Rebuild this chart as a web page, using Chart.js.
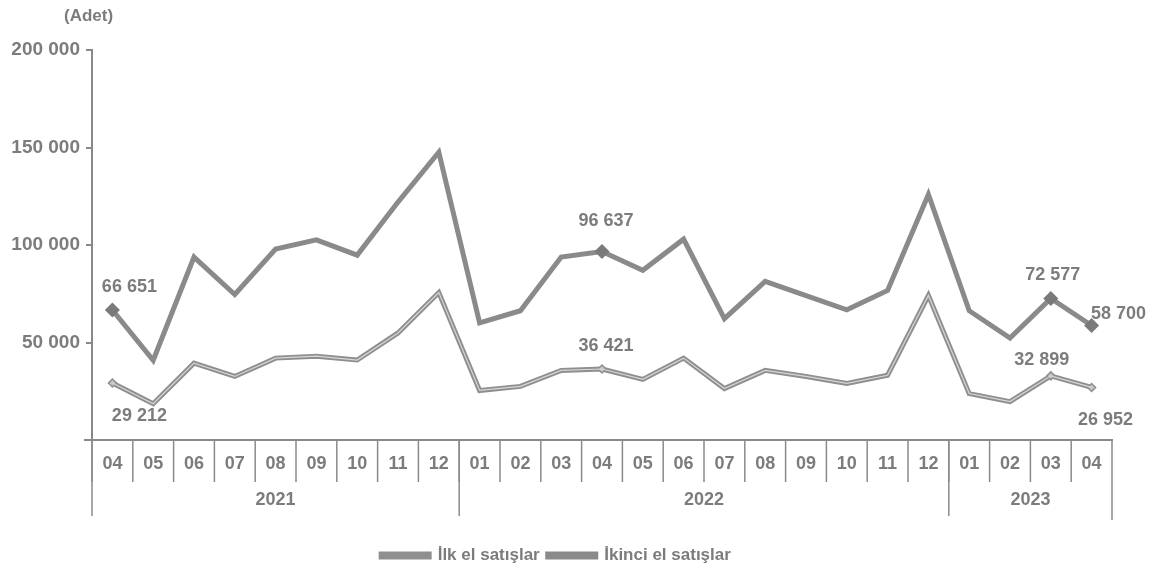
<!DOCTYPE html>
<html>
<head>
<meta charset="utf-8">
<script src="https://cdn.jsdelivr.net/npm/chart.js@4.4.1/dist/chart.umd.min.js"></script>
<style>
  html, body { margin: 0; padding: 0; background: #fff; }
  #wrap { width: 1168px; height: 580px; }
</style>
</head>
<body>
<div id="wrap"><canvas id="salesChart"></canvas></div>
<script>
// ---- data ----
const months = ["04","05","06","07","08","09","10","11","12",
                "01","02","03","04","05","06","07","08","09","10","11","12",
                "01","02","03","04"];
const years = ["2021", "2022", "2023"];
const monthsPerYear = [9, 12, 4];

const firstHand = [29212, 18600, 39400, 32600, 42000, 43000, 41000, 54900, 75600,
                   25400, 27500, 35700, 36421, 31100, 42000, 26400, 35700, 32600, 29000, 33200, 74100,
                   23800, 19700, 32899, 26952];
const secondHand = [66651, 40900, 93800, 74600, 97900, 102600, 94800, 122000, 147600,
                    60100, 66300, 93800, 96637, 87000, 103000, 62200, 81300, 74000, 66800, 76700, 125900,
                    66300, 52300, 72577, 58700];
const yTicks = [0, 50000, 100000, 150000, 200000];
const labelledPoints = [0, 12, 23, 24];

const grey = "#8a8a8a";
const textGrey = "#7c7c7c";
const font = "'Liberation Sans', Arial, sans-serif";

const fmt = v => String(v).replace(/\B(?=(\d{3})+(?!\d))/g, " ");
const markerRadius = months.map((m, i) => labelledPoints.includes(i) ? 4 : 0);

// month dividers, year row and the "(Adet)" note
const axisGroups = {
  id: "axisGroups",
  afterDraw(chart) {
    const { ctx, chartArea } = chart;
    const x = chart.scales.x;
    const half = (x.getPixelForValue(1) - x.getPixelForValue(0)) / 2;
    const top = chartArea.bottom;
    ctx.save();
    ctx.strokeStyle = grey;
    ctx.lineWidth = 2;
    ctx.beginPath(); ctx.moveTo(chartArea.left - 8, top); ctx.lineTo(chartArea.left, top); ctx.stroke();
    ctx.lineWidth = 1.5;
    months.forEach((m, i) => {
      const px = x.getPixelForValue(i) - half;
      ctx.beginPath(); ctx.moveTo(px, top); ctx.lineTo(px, top + 42); ctx.stroke();
    });
    ctx.fillStyle = textGrey;
    ctx.font = "bold 18px " + font;
    ctx.textAlign = "center";
    ctx.textBaseline = "middle";
    let start = 0;
    years.forEach((yr, k) => {
      const end = start + monthsPerYear[k];
      const left = x.getPixelForValue(start) - half;
      const right = x.getPixelForValue(end - 1) + half;
      ctx.beginPath(); ctx.moveTo(left, top); ctx.lineTo(left, top + 76); ctx.stroke();
      if (k === years.length - 1) {
        ctx.beginPath(); ctx.moveTo(right, top); ctx.lineTo(right, top + 80); ctx.stroke();
      }
      ctx.fillText(yr, (left + right) / 2, top + 60);
      start = end;
    });
    ctx.font = "bold 17px " + font;
    ctx.textAlign = "left";
    ctx.fillText("(Adet)", 64, 16);
    ctx.restore();
  }
};

// value labels next to the marked points
const pointLabels = {
  id: "pointLabels",
  afterDatasetsDraw(chart) {
    const { ctx } = chart;
    const offsets = {
      0: [[27, 33], [4, -23], [-9, -16], [14, 33]],
      1: [[17, -23], [4, -31], [2, -23], [27, -12]]
    };
    ctx.save();
    ctx.fillStyle = textGrey;
    ctx.font = "bold 18px " + font;
    ctx.textAlign = "center";
    ctx.textBaseline = "middle";
    [0, 1].forEach(d => {
      const meta = chart.getDatasetMeta(d);
      labelledPoints.forEach((idx, j) => {
        const pt = meta.data[idx];
        const [dx, dy] = offsets[d][j];
        ctx.fillText(fmt(chart.data.datasets[d].data[idx]), pt.x + dx, pt.y + dy);
      });
    });
    ctx.restore();
  }
};

document.addEventListener("DOMContentLoaded", () => {
  const ctx = document.getElementById("salesChart").getContext("2d");
  new Chart(ctx, {
    type: "line",
    data: {
      labels: months,
      datasets: [
        {
          label: "İlk el satışlar",
          data: firstHand,
          borderColor: "#8f8f8f",
          backgroundColor: "#8f8f8f",
          borderWidth: 5,
          pointRadius: markerRadius,
          pointStyle: "rectRot",
          pointBackgroundColor: "#c4c4c4",
          pointBorderColor: "#8f8f8f",
          pointBorderWidth: 1.5,
          tension: 0,
          order: 1
        },
        {
          label: "İkinci el satışlar",
          data: secondHand,
          borderColor: grey,
          backgroundColor: grey,
          borderWidth: 5,
          pointRadius: markerRadius,
          pointStyle: "rectRot",
          pointBackgroundColor: "#7a7a7a",
          pointBorderColor: "#7a7a7a",
          tension: 0,
          order: 2
        },
        {
          // light inner stripe of the double line
          label: "stripe",
          data: firstHand,
          borderColor: "#d6d6d6",
          borderWidth: 1.2,
          pointRadius: 0,
          tension: 0,
          order: 0
        }
      ]
    },
    options: {
      responsive: true,
      maintainAspectRatio: false,
      animation: false,
      layout: { padding: { top: 50, right: 56, bottom: 6, left: 0 } },
      plugins: {
        legend: {
          position: "bottom",
          labels: {
            filter: item => item.text !== "stripe",
            boxWidth: 48,
            boxHeight: 3,
            padding: 8,
            color: textGrey,
            font: { family: font, size: 17, weight: "bold" }
          }
        },
        tooltip: { enabled: false }
      },
      scales: {
        x: {
          offset: true,
          grid: { display: false, drawTicks: false },
          border: { color: grey, width: 2 },
          ticks: {
            color: textGrey,
            padding: 13,
            maxRotation: 0,
            autoSkip: false,
            font: { family: font, size: 18, weight: "bold" }
          },
          afterFit: s => { s.height = 99; }
        },
        y: {
          min: 0,
          max: 200000,
          afterBuildTicks: s => { s.ticks = yTicks.map(v => ({ value: v })); },
          grid: { drawOnChartArea: false, tickLength: 6, color: grey, lineWidth: 2 },
          border: { color: grey, width: 2 },
          ticks: {
            color: textGrey,
            padding: 6,
            font: { family: font, size: 19, weight: "bold" },
            callback: v => v === 0 ? "" : fmt(v)
          },
          afterFit: s => { s.width = 92; }
        }
      }
    },
    plugins: [axisGroups, pointLabels]
  });
});
</script>
</body>
</html>
